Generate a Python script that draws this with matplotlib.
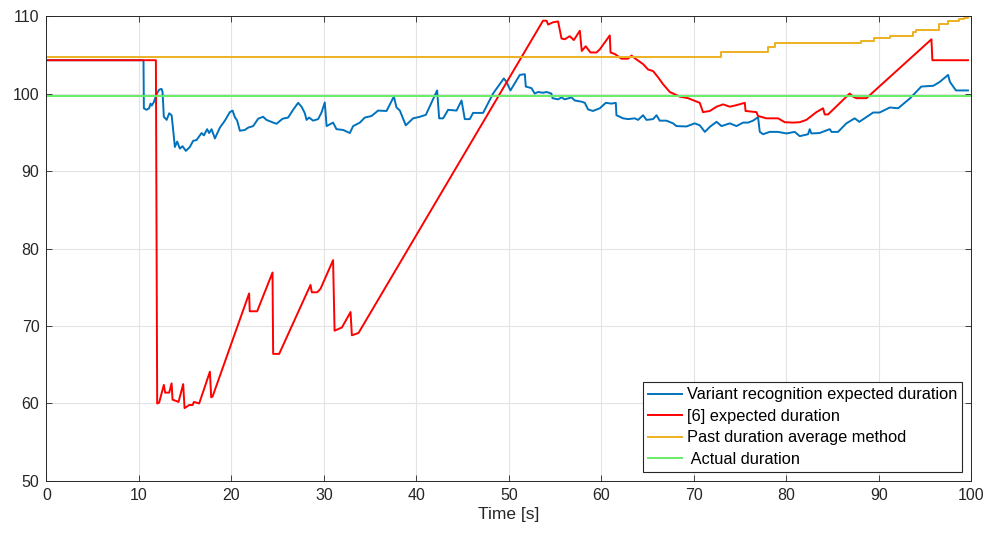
import matplotlib
matplotlib.use("Agg")
import matplotlib.pyplot as plt

plt.rcParams['font.family'] = ['Liberation Sans', 'DejaVu Sans']

# expected duration from variant recognition
t_variant = [0, 10.5, 10.54, 10.83, 11.11, 11.26, 11.4, 11.62, 11.91, 12.19, 12.45, 12.56, 12.7, 13.0,
             13.28, 13.54, 13.71, 13.89, 14.14, 14.43, 14.72, 15.08, 15.51, 15.87, 16.24, 16.78, 17.03,
             17.38, 17.6, 17.86, 18.22, 18.76, 19.3, 19.84, 20.13, 20.38, 20.63, 20.92, 21.46, 21.82,
             22.36, 22.9, 23.44, 23.8, 24.52, 24.89, 25.54, 26.14, 26.68, 27.22, 27.59, 27.95, 28.13,
             28.41, 28.84, 29.38, 29.75, 30.1, 30.3, 31.0, 31.37, 32.09, 32.81, 33.17, 33.9, 34.43,
             35.16, 35.87, 36.78, 37.57, 37.86, 38.22, 38.86, 39.65, 40.38, 41.03, 42.25, 42.47, 42.9,
             43.44, 44.35, 44.89, 45.24, 45.78, 46.14, 47.22, 48.3, 49.46, 49.75, 50.18, 51.19, 51.73,
             51.84, 52.45, 52.8, 53.17, 53.7, 54.08, 54.6, 54.73, 55.33, 55.7, 56.05, 56.78, 57.14,
             57.86, 58.22, 58.57, 59.1, 59.84, 60.49, 61.1, 61.57, 61.64, 62.36, 62.9, 63.62, 63.98,
             64.52, 64.89, 65.6, 65.97, 66.32, 67.05, 67.76, 68.13, 69.21, 70.1, 70.65, 71.2, 71.74,
             72.46, 73.0, 73.9, 74.62, 75.33, 75.87, 76.41, 76.95, 77.14, 77.5, 78.2, 79.1, 80.02,
             80.92, 81.46, 82.36, 82.54, 82.72, 83.6, 84.7, 84.9, 85.6, 86.5, 87.4, 87.9, 89.4, 90.1,
             91.2, 92.1, 93.4, 94.6, 95.9, 96.6, 97.5, 97.7, 98.35, 99.65]
d_variant = [104.3, 104.3, 98.1, 97.9, 98.1, 98.7, 98.45, 98.9, 99.9, 100.5, 100.6, 100.2, 97.0, 96.6,
             97.45, 97.2, 95.3, 93.1, 93.8, 92.9, 93.2, 92.6, 93.1, 93.9, 94.0, 94.9, 94.6,
             95.4, 94.9, 95.4, 94.2, 95.6, 96.5, 97.6, 97.8, 96.95, 96.5, 95.2, 95.3, 95.6,
             95.8, 96.75, 97.0, 96.6, 96.25, 96.1, 96.75, 96.9, 97.9, 98.8, 98.3, 97.45, 96.6,
             96.9, 96.5, 96.7, 97.55, 98.85, 95.8, 96.25, 95.4, 95.3, 94.9, 95.8, 96.25, 96.9,
             97.1, 97.8, 97.75, 99.6, 98.2, 97.8, 95.9, 96.8, 97.0, 97.25, 100.4, 96.8, 96.8,
             97.9, 97.8, 99.1, 96.7, 96.7, 97.5, 97.5, 100.0, 101.95, 101.5, 100.4, 102.4, 102.5,
             100.9, 100.7, 100.0, 100.2, 100.1, 100.2, 100.0, 99.4, 99.25, 99.5, 99.25, 99.5, 99.1,
             98.95, 98.8, 97.95, 97.75, 98.1, 98.8, 98.7, 98.8, 97.2, 96.8, 96.7, 96.8, 96.6,
             97.2, 96.6, 96.7, 97.2, 96.5, 96.5, 96.15, 95.8, 95.75, 96.15, 95.9, 95.05, 95.7,
             96.35, 95.8, 96.15, 95.8, 96.25, 96.25, 96.5, 96.95, 95.05, 94.75, 95.05, 95.05, 94.85,
             95.05, 94.5, 94.75, 95.4, 94.85, 94.9, 95.4, 95.05, 95.05, 96.15, 96.8, 96.35, 97.55, 97.55,
             98.2, 98.1, 99.4, 100.9, 101.0, 101.5, 102.4, 101.5, 100.4, 100.4]

# expected duration from method [6]
t_ref6 = [0, 11.84, 11.98, 12.19, 12.7, 12.84, 13.28, 13.54, 13.64, 14.29, 14.79, 14.94, 15.44, 15.81,
          15.95, 16.52, 17.68, 17.82, 17.97, 21.92, 21.99, 22.79, 24.45, 24.52, 25.17, 28.56, 28.7,
          29.28, 29.64, 31.0, 31.16, 31.95, 32.89, 33.03, 33.75, 53.7, 54.08, 54.25, 54.79, 55.33,
          55.7, 56.05, 56.59, 57.03, 57.68, 57.89, 58.32, 58.83, 59.48, 59.84, 60.92, 61.0, 61.46,
          62.18, 62.9, 63.26, 63.8, 64.52, 65.06, 65.6, 66.14, 66.68, 67.41, 68.49, 69.38, 70.65,
          71.0, 71.74, 72.46, 73.17, 73.9, 74.62, 75.52, 75.6, 76.78, 76.95, 77.86, 79.12, 79.84,
          80.74, 81.46, 82.18, 83.26, 83.98, 84.16, 84.52, 86.86, 87.22, 87.59, 88.67, 95.7, 95.8,
          99.65]
d_ref6 = [104.3, 104.3, 60.0, 60.1, 62.4, 61.4, 61.4, 62.6, 60.5, 60.2, 62.5, 59.4, 59.8, 59.8,
          60.2, 60.0, 64.1, 60.8, 60.9, 74.2, 71.9, 71.9, 76.9, 66.4, 66.4, 75.3, 74.35,
          74.35, 74.8, 78.5, 69.4, 69.8, 71.8, 68.8, 69.1, 109.4, 109.4, 108.9, 109.2, 109.3,
          107.1, 107.0, 107.4, 106.9, 108.1, 105.5, 106.1, 105.3, 105.3, 105.7, 107.5, 105.3, 105.1,
          104.5, 104.5, 104.9, 104.4, 103.8, 103.1, 102.9, 102.1, 101.2, 100.2, 99.6, 99.4, 98.8,
          97.6, 97.75, 98.3, 98.6, 98.3, 98.5, 98.8, 97.75, 97.6, 97.1, 96.8, 96.8, 96.3,
          96.25, 96.3, 96.6, 97.6, 98.1, 97.3, 97.3, 100.0, 99.6, 99.4, 99.4, 107.0, 104.3,
          104.3]

# running average of past durations (stepwise)
t_past = [0, 72.9, 78.05, 78.8, 88.1, 89.5, 91.2, 93.7, 94.0, 96.55, 97.45, 98.7, 99.25, 99.6]
d_past = [104.7, 105.4, 105.95, 106.5, 106.8, 107.2, 107.45, 107.9, 108.2, 109.0, 109.3, 109.6, 109.8, 110.0]

t_actual = [0, 100]
d_actual = [99.65, 99.65]

labels = ['Variant recognition expected duration', '[6] expected duration',
          'Past duration average method', ' Actual duration']

fig = plt.figure(figsize=(9.87, 5.35), dpi=100)
ax = fig.add_axes([0.047, 0.101, 0.937, 0.869])

lw = 1.4
ax.plot(t_variant, d_variant, color='#0072BD', lw=lw, label=labels[0])
ax.plot(t_ref6, d_ref6, color='#FF0000', lw=lw, label=labels[1])
ax.step(t_past, d_past, where='post', color='#EDB120', lw=lw, label=labels[2])
ax.plot(t_actual, d_actual, color='#66EE66', lw=lw, label=labels[3])

ax.set_xlim(0, 100)
ax.set_ylim(50, 110)
ax.set_xticks(range(0, 101, 10))
ax.set_yticks(range(50, 111, 10))
ax.grid(True, color='#E3E3E3', lw=0.8)
ax.set_axisbelow(True)
ax.tick_params(direction='in', top=True, right=True, length=4, width=0.6,
               labelsize=11.5, colors='#262626', pad=5)
for s in ax.spines.values():
    s.set_color('#262626')
    s.set_linewidth(0.7)
ax.set_xlabel('Time [s]', fontsize=12.5, color='#262626', labelpad=3)

leg = ax.legend(loc='lower right', fontsize=11.8, fancybox=False, framealpha=1,
                edgecolor='#262626', handlelength=2.1, handletextpad=0.3,
                labelspacing=0.4, borderaxespad=0.55, borderpad=0.3)
leg.get_frame().set_linewidth(0.8)

fig.savefig('out.png', dpi=100)
